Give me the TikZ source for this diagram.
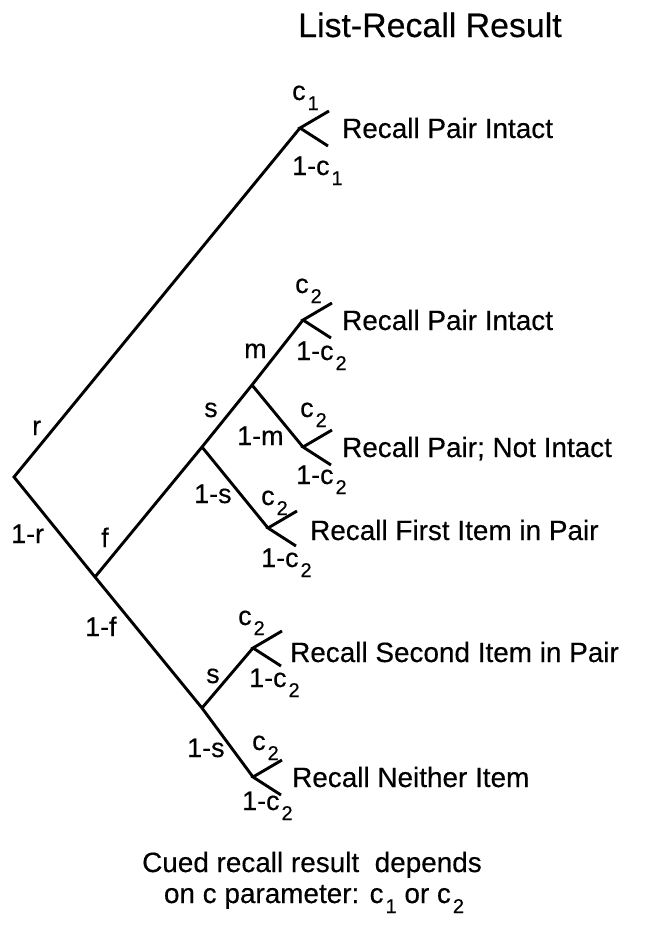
\documentclass[tikz,border=0pt]{standalone}
\usepackage{fontspec}
\setmainfont{Liberation Sans}[FakeBold=0.35]
\newcommand\labfont{\fontsize{27}{29}\selectfont}
\newcommand\recfont{\fontsize{28}{30}\selectfont}
\newcommand\subfont{\fontsize{20}{20}\selectfont}
\newcommand\csub[1]{c\kern2pt\raisebox{-10bp}{\subfont #1}}
\begin{document}
\begin{tikzpicture}[x=1bp,y=-1bp,
  branch/.style={line width=2.9bp},
  lab/.style={anchor=base west, inner sep=0pt, font=\labfont},
  rec/.style={anchor=base west, inner sep=0pt, font=\recfont}]
\useasboundingbox (0,0) rectangle (647,929);
% forks
\coordinate (root) at (14,477);
\coordinate (A) at (300,128);
\coordinate (F) at (95,577);
\coordinate (S1) at (202,447);
\coordinate (M) at (252,385);
\coordinate (L2) at (303,320);
\coordinate (L3) at (303,447);
\coordinate (L4) at (268,528);
\coordinate (S2) at (202,708);
\coordinate (L5) at (253,648);
\coordinate (L6) at (253,777);
% leaf ends
\foreach \n in {A,L2,L3,L4,L5,L6}{
  \path (\n) ++(29,-17) coordinate (\n u);
  \path (\n) ++(28,18) coordinate (\n d);
  \draw[branch] (\n u) -- (\n) -- (\n d);
}
% branches
\draw[branch] (A) -- (root) -- (F) -- (S2) -- (L6);
\draw[branch] (F) -- (S1) -- (M) -- (L2);
\draw[branch] (M) -- (L3);
\draw[branch] (S1) -- (L4);
\draw[branch] (S2) -- (L5);
% title
\node[anchor=base, inner sep=0pt, font=\fontsize{34}{36}\selectfont] (title) at (430,37) {List-Recall Result};
% top leaf
\node[lab] (c1a) at (292,100) {\csub{1}};
\node[lab] (c1b) at (292,175) {1-\csub{1}};
\node[rec] (t1) at (342,138) {Recall Pair Intact};
% m fork
\node[lab] (c2a) at (295,293) {\csub{2}};
\node[lab] (c2b) at (296,360) {1-\csub{2}};
\node[rec] (t2) at (342,330) {Recall Pair Intact};
\node[lab] (lm) at (244,358) {m};
\node[lab] (ls1) at (204,417) {s};
% 1-m fork
\node[lab] (c3a) at (300,417) {\csub{2}};
\node[lab] (lnm) at (237,445) {1-m};
\node[lab] (c3b) at (296,484) {1-\csub{2}};
\node[rec] (t3) at (342,457) {Recall Pair; Not Intact};
% 1-s fork
\node[lab] (lns1) at (194,503) {1-s};
\node[lab] (c4a) at (261,505) {\csub{2}};
\node[rec] (t4) at (310,540) {Recall First Item in Pair};
\node[lab] (c4b) at (261,567) {1-\csub{2}};
% left
\node[lab] (lr) at (32,435) {r};
\node[lab] (lnr) at (11,543) {1-r};
\node[lab] (lf) at (101,547) {f};
\node[lab] (lnf) at (85,636) {1-f};
% lower s fork
\node[lab] (ls2) at (206,683) {s};
\node[lab] (lns2) at (187,757) {1-s};
\node[lab] (c5a) at (238,625) {\csub{2}};
\node[lab] (c5b) at (249,687) {1-\csub{2}};
\node[rec] (t5) at (290,662) {Recall Second Item in Pair};
\node[lab] (c6a) at (252,750) {\csub{2}};
\node[lab] (c6b) at (242,810) {1-\csub{2}};
\node[rec] (t6) at (292,787) {Recall Neither Item};
% bottom
\node[anchor=base, inner sep=0pt, font=\fontsize{28}{30}\selectfont] (b1) at (312,872) {Cued recall result\ \ depends};
\node[anchor=base, inner sep=0pt, font=\fontsize{28}{30}\selectfont] (b2) at (314,903) {on c parameter: \csub{1} or \csub{2}};
\end{tikzpicture}
\end{document}
